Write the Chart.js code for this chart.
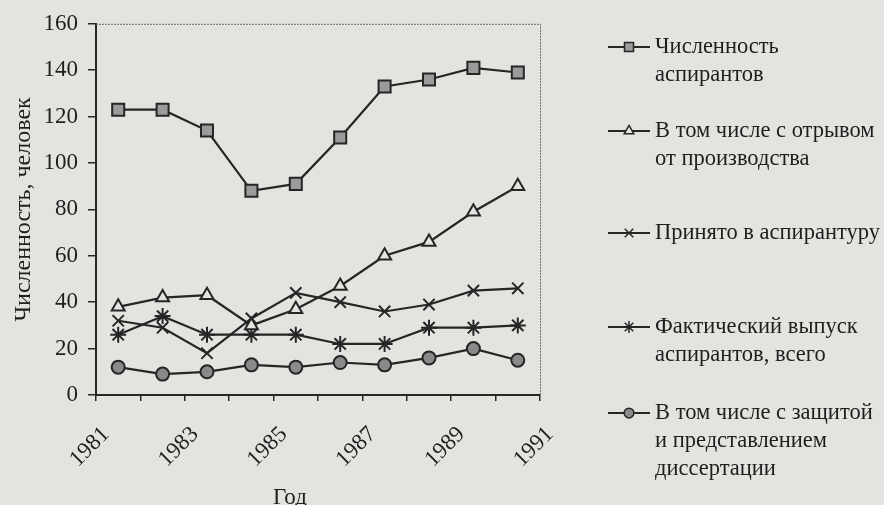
<!DOCTYPE html>
<html lang="ru">
<head>
    <meta charset="UTF-8">
    <title>Численность аспирантов</title>
    <script src="https://cdn.jsdelivr.net/npm/chart.js"></script>
    <style>
        html, body { margin: 0; padding: 0; background: #e3e3e0; }
        canvas { display: block; }
    </style>
</head>
<body>
    <canvas id="lineChart" width="884" height="505"></canvas>

    <script>
        // Data (one value per year 1981–1990)
        const tickLabels = ['1981', '1983', '1985', '1987', '1989', '1991'];
        const total      = [123, 123, 114, 88, 91, 111, 133, 136, 141, 139];
        const fullTime   = [38, 42, 43, 30, 37, 47, 60, 66, 79, 90];
        const admitted   = [32, 29, 18, 33, 44, 40, 36, 39, 45, 46];
        const graduated  = [26, 34, 26, 26, 26, 22, 22, 29, 29, 30];
        const defended   = [12, 9, 10, 13, 12, 14, 13, 16, 20, 15];

        const seriesNames = [
            ['Численность', 'аспирантов'],
            ['В том числе с отрывом', 'от производства'],
            ['Принято в аспирантуру'],
            ['Фактический выпуск', 'аспирантов, всего'],
            ['В том числе с защитой', 'и представлением', 'диссертации']
        ];

        const ink = '#262626';
        const serif = "'Liberation Serif', 'Times New Roman', serif";

        // points sit in the middle of each year slot
        const toPoints = arr => arr.map((v, i) => ({ x: i + 0.5, y: v }));
        const tickPos = Array.from({ length: 11 }, (_, i) => i + 0.5);

        const styles = [
            { pointStyle: 'rect', pointRadius: 8.5, fill: '#9b9b9b' },
            { pointStyle: 'triangle', pointRadius: 7.5, fill: '#e4e4e1' },
            { pointStyle: 'crossRot', pointRadius: 8, fill: ink },
            { pointStyle: 'star', pointRadius: 8, fill: ink },
            { pointStyle: 'circle', pointRadius: 6.5, fill: '#8a8a8a' }
        ];
        const values = [total, fullTime, admitted, graduated, defended];

        const datasets = values.map((arr, i) => ({
            label: seriesNames[i].join(' '),
            data: toPoints(arr),
            borderColor: ink,
            borderWidth: 2.2,
            pointStyle: styles[i].pointStyle,
            pointRadius: styles[i].pointRadius,
            pointBackgroundColor: styles[i].fill,
            pointBorderColor: ink,
            pointBorderWidth: 2
        }));

        // thin dotted frame on top and right, like the printed figure
        const framePlugin = {
            id: 'frame',
            beforeDatasetsDraw(chart) {
                const { ctx, chartArea: a } = chart;
                ctx.save();
                ctx.strokeStyle = '#6a6a6a';
                ctx.lineWidth = 1;
                ctx.setLineDash([2, 1]);
                ctx.beginPath();
                ctx.moveTo(a.left, a.top + 0.5);
                ctx.lineTo(a.right + 0.5, a.top + 0.5);
                ctx.lineTo(a.right + 0.5, a.bottom);
                ctx.stroke();
                ctx.restore();
            }
        };

        // legend on the right with wrapped labels, plus the x axis caption
        const legendPlugin = {
            id: 'sideLegend',
            afterDraw(chart) {
                const ctx = chart.ctx;
                const rowY = [47, 131, 233, 327, 413];
                const lineGap = 28;
                ctx.save();
                chart.data.datasets.forEach((ds, i) => {
                    const y = rowY[i];
                    ctx.strokeStyle = ink;
                    ctx.lineWidth = 2.2;
                    ctx.setLineDash([]);
                    ctx.beginPath();
                    ctx.moveTo(608, y);
                    ctx.lineTo(650, y);
                    ctx.stroke();
                    ctx.fillStyle = ds.pointBackgroundColor;
                    ctx.strokeStyle = ink;
                    ctx.lineWidth = 1.5;
                    Chart.helpers.drawPoint(ctx, {
                        pointStyle: ds.pointStyle,
                        radius: ds.pointRadius * 0.75,
                        borderWidth: 1.5,
                        rotation: 0
                    }, 629, y);
                    ctx.fillStyle = '#1e1e1e';
                    ctx.font = '22.5px ' + serif;
                    ctx.textBaseline = 'middle';
                    ctx.textAlign = 'left';
                    seriesNames[i].forEach((txt, k) => {
                        ctx.fillText(txt, 655, y + k * lineGap);
                    });
                });
                ctx.font = '23px ' + serif;
                ctx.textAlign = 'center';
                ctx.textBaseline = 'middle';
                ctx.fillText('Год', 290, 498);
                ctx.restore();
            }
        };

        const ctx = document.getElementById('lineChart').getContext('2d');
        const lineChart = new Chart(ctx, {
            type: 'line',
            data: { datasets: datasets },
            options: {
                responsive: false,
                animation: false,
                layout: { padding: { top: 22, right: 344, left: 0, bottom: 0 } },
                plugins: {
                    legend: { display: false },
                    tooltip: { enabled: false }
                },
                scales: {
                    x: {
                        type: 'linear',
                        min: 0,
                        max: 10,
                        afterBuildTicks: scale => {
                            scale.ticks = tickPos.map(v => ({ value: v }));
                        },
                        afterFit: scale => { scale.height = 110; },
                        grid: {
                            offset: true,
                            drawOnChartArea: false,
                            tickLength: 6,
                            color: ink,
                            lineWidth: 1.5
                        },
                        border: { display: true, color: ink, width: 2 },
                        ticks: {
                            autoSkip: false,
                            minRotation: 45,
                            maxRotation: 45,
                            padding: 20,
                            labelOffset: -12,
                            color: '#1e1e1e',
                            font: { family: serif, size: 23 },
                            callback: (value, index) => index % 2 === 0 ? tickLabels[index / 2] : ''
                        }
                    },
                    y: {
                        min: 0,
                        max: 160,
                        afterFit: scale => { scale.width = 96; },
                        grid: {
                            drawOnChartArea: false,
                            tickLength: 8,
                            color: ink,
                            lineWidth: 1.5
                        },
                        border: { display: true, color: ink, width: 2 },
                        ticks: {
                            stepSize: 20,
                            padding: 10,
                            color: '#1e1e1e',
                            font: { family: serif, size: 23 }
                        },
                        title: {
                            display: true,
                            text: 'Численность, человек',
                            color: '#1e1e1e',
                            font: { family: serif, size: 24 },
                            padding: { top: 9, bottom: 0 }
                        }
                    }
                }
            },
            plugins: [framePlugin, legendPlugin]
        });
    </script>
</body>
</html>
